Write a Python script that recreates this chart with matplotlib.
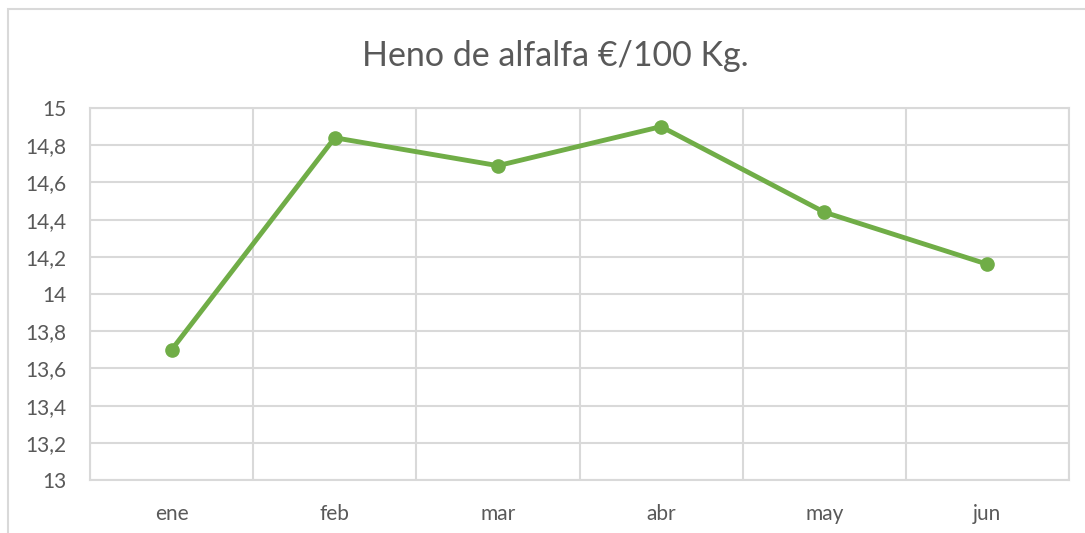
import matplotlib
matplotlib.use("Agg")
import matplotlib.pyplot as plt
from matplotlib.patches import Rectangle
from matplotlib.ticker import FixedLocator, FuncFormatter

categories = ["ene", "feb", "mar", "abr", "may", "jun"]
values = [13.70, 14.84, 14.69, 14.90, 14.44, 14.16]
yticks = [13, 13.2, 13.4, 13.6, 13.8, 14, 14.2, 14.4, 14.6, 14.8, 15]

W, H = 1085, 533
fig = plt.figure(figsize=(W / 100, H / 100), dpi=100)
plt.rcParams['font.family'] = ['Lato', 'DejaVu Sans']

grid_c = "#D9D9D9"
text_c = "#595959"

# outer chart border
fig.patches.append(Rectangle((8 / W, -0.1), 1.2, 1 - 9 / H + 0.1, transform=fig.transFigure,
                             fill=False, edgecolor=grid_c, linewidth=1.5))

left, right, top, bottom = 90, 1069, 108, 480
ax = fig.add_axes([left / W, 1 - bottom / H, (right - left) / W, (bottom - top) / H])

x = list(range(len(categories)))
ax.plot(x, values, color="#70AD47", linewidth=3.5, marker="o", markersize=9.5, zorder=3)

ax.set_xlim(-0.5, len(categories) - 0.5)
ax.set_ylim(13, 15)
ax.set_yticks(yticks)
ax.yaxis.set_major_formatter(FuncFormatter(lambda v, p: (f"{v:.1f}".rstrip("0").rstrip(".")).replace(".", ",")))
ax.set_xticks(x)
ax.set_xticklabels(categories)
ax.xaxis.set_minor_locator(FixedLocator([i - 0.5 for i in range(len(categories) + 1)]))

ax.grid(True, which="major", axis="y", color=grid_c, linewidth=1.5)
ax.grid(True, which="minor", axis="x", color=grid_c, linewidth=1.5)
for s in ax.spines.values():
    s.set_color(grid_c)
    s.set_linewidth(1.5)
ax.tick_params(which="both", length=0)
ax.tick_params(axis="y", pad=17, labelsize=15, labelcolor=text_c)
ax.tick_params(axis="x", pad=17, labelsize=15, labelcolor=text_c)
ax.set_axisbelow(True)

fig.text(555 / W, 1 - 56 / H, "Heno de alfalfa €/100 Kg.", ha="center", va="center",
         fontsize=24.5, color=text_c)

fig.savefig("out.png", dpi=100, facecolor="white")
